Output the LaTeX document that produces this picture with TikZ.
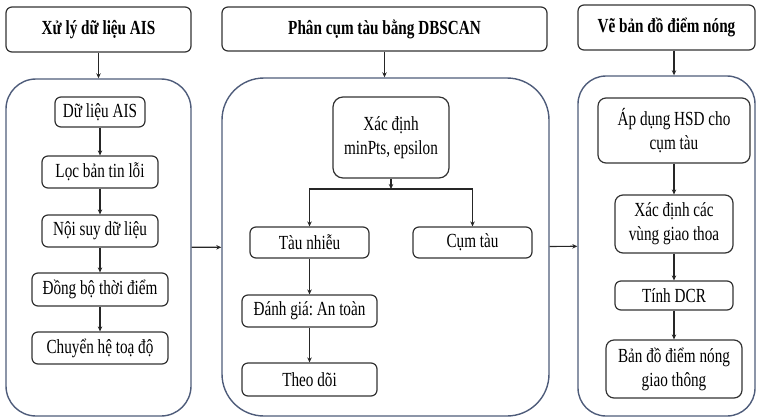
\documentclass[tikz,border=0pt]{standalone}
\usepackage{fontspec}
\setmainfont{Liberation Serif}[FakeStretch=0.76]
\usetikzlibrary{arrows.meta}
\definecolor{panelblue}{RGB}{78,92,122}
\definecolor{boxgray}{RGB}{50,50,50}
\frenchspacing
\begin{document}
\begin{tikzpicture}[x=1pt, y=-1pt,
    every node/.style={font=\fontsize{20}{24}\selectfont, align=center, inner sep=0pt},
    box/.style={draw=boxgray, line width=1.2pt, rounded corners=6pt},
    head/.style={box, font=\bfseries\fontsize{20}{24}\selectfont},
    panel/.style={draw=panelblue, line width=1.4pt},
    arr/.style={line width=1.2pt, draw=black!85, -{Stealth[length=5pt,width=4.5pt]}}]
        \useasboundingbox (0,0) rectangle (759,418);
        % headers
        \node[head, minimum width=185, minimum height=45] (t1) at (98.5,29.5) {Xử lý dữ liệu AIS};
        \node[head, minimum width=325, minimum height=44] (t2) at (384.5,29) {Phân cụm tàu bằng DBSCAN};
        \node[head, minimum width=177, minimum height=45] (t3) at (666.5,27.5) {Vẽ bản đồ điểm nóng};
        % panels
        \node[panel, rounded corners=30pt, minimum width=185, minimum height=337] (p1) at (98.5,247.5) {};
        \node[panel, rounded corners=42pt, minimum width=327, minimum height=338] (p2) at (385.5,247) {};
        \node[panel, rounded corners=28pt, minimum width=177, minimum height=340] (p3) at (666.5,246) {};
        % panel 1
        \node[box, minimum width=90, minimum height=30] (d1) at (100,112) {Dữ liệu AIS};
        \node[box, minimum width=116, minimum height=32] (d2) at (100,172) {Lọc bản tin lỗi};
        \node[box, minimum width=116, minimum height=32] (d3) at (100,231) {Nội suy dữ liệu};
        \node[box, minimum width=136, minimum height=33] (d4) at (100,289.5) {Đồng bộ thời điểm};
        \node[box, minimum width=136, minimum height=32] (d5) at (100,348) {Chuyển hệ toạ độ};
        % panel 2
        \node[box, rounded corners=10pt, minimum width=116, minimum height=81] (c1) at (391,137.5) {Xác định\\minPts, epsilon};
        \coordinate (split) at (391,189);
        \node[box, minimum width=119, minimum height=31] (c2) at (309.5,242.5) {Tàu nhiễu};
        \node[box, minimum width=119, minimum height=31] (c3) at (472.5,242.5) {Cụm tàu};
        \node[box, minimum width=135, minimum height=32] (c4) at (309.5,311) {Đánh giá: An toàn};
        \node[box, minimum width=135, minimum height=33] (c5) at (309.5,379.5) {Theo dõi};
        % panel 3
        \node[box, rounded corners=8pt, minimum width=152, minimum height=65] (h1) at (674,130.5) {Áp dụng HSD cho\\cụm tàu};
        \node[box, rounded corners=8pt, minimum width=118, minimum height=58] (h2) at (674,224) {Xác định các\\vùng giao thoa};
        \node[box, minimum width=118, minimum height=29] (h3) at (674,295.5) {Tính DCR};
        \node[box, rounded corners=8pt, minimum width=136, minimum height=58] (h4) at (674,369) {Bản đồ điểm nóng\\giao thông};
        % connectors
        \draw[arr] (t1) -- (p1);
        \draw[arr] (t2) -- (t2 |- p2.north);
        \draw[arr] (t3.south -| h1) -- (p3.north -| h1);
        \draw[arr] (p1) -- (p2);
        \draw[arr] (p2) -- (p3);
        \foreach \a/\b in {d1/d2,d2/d3,d3/d4,d4/d5} {
            \draw[arr] (\a) -- (\b);
        }
        \draw[arr] (c1) -- (split);
        \draw[arr] (split) -| (c2);
        \draw[arr] (split) -| (c3);
        \draw[arr] (c2) -- (c4);
        \draw[arr] (c4) -- (c5);
        \foreach \a/\b in {h1/h2,h2/h3,h3/h4} {
            \draw[arr] (\a) -- (\b);
        }
    \end{tikzpicture}
\end{document}
